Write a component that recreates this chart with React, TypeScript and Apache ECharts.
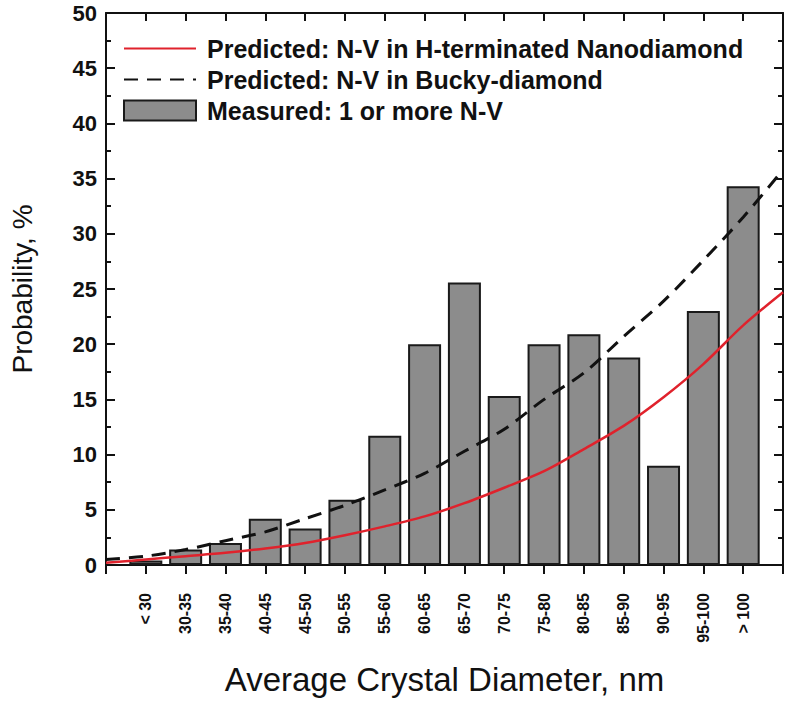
import React, { useEffect, useRef } from "react";
import * as echarts from "echarts";

const categories = ["< 30", "30-35", "35-40", "40-45", "45-50", "50-55", "55-60", "60-65", "65-70", "70-75", "75-80", "80-85", "85-90", "90-95", "95-100", "> 100"];
const measured = [0.4, 1.4, 2.0, 4.2, 3.3, 5.9, 11.7, 20.0, 25.6, 15.3, 20.0, 20.9, 18.8, 9.0, 23.0, 34.3];
// positions -1 .. 16 (axis ends included)
const curveX = [-1, 0, 1, 2, 3, 4, 5, 6, 7, 8, 9, 10, 11, 12, 13, 14, 15, 16];
const predictedH = [0.2, 0.5, 0.8, 1.1, 1.5, 2.0, 2.7, 3.5, 4.4, 5.6, 7.0, 8.5, 10.5, 12.6, 15.2, 18.2, 21.7, 24.7];
const predictedBucky = [0.5, 0.8, 1.4, 2.2, 3.0, 4.2, 5.4, 6.8, 8.3, 10.3, 12.3, 15.0, 17.4, 20.7, 23.9, 27.6, 31.5, 35.8];

const nameH = "Predicted: N-V in H-terminated Nanodiamond";
const nameB = "Predicted: N-V in Bucky-diamond";
const nameM = "Measured: 1 or more N-V";

export default function App() {
  const ref = useRef<HTMLDivElement>(null);
  useEffect(() => {
    if (!ref.current) return;
    const chart = echarts.init(ref.current, null, { renderer: "svg" });
    const font = "'Liberation Sans', Arial, Helvetica, sans-serif";
    const axisLine = { show: true, onZero: false, lineStyle: { color: "#111", width: 2 } };
    chart.setOption({
      animation: false,
      backgroundColor: "#ffffff",
      textStyle: { fontFamily: font },
      grid: { left: 106, right: 5, top: 13, bottom: 129, containLabel: false },
      legend: {
        orient: "vertical",
        left: 118,
        top: 31,
        itemWidth: 72,
        itemHeight: 20,
        itemGap: 6,
        selectedMode: false,
        textStyle: { fontFamily: font, fontSize: 25, fontWeight: "bold", color: "#111", padding: [0, 0, 0, 6] },
        data: [
          { name: nameH, itemStyle: { opacity: 0 } },
          { name: nameB, itemStyle: { opacity: 0 } },
          { name: nameM, icon: "rect" },
        ],
      },
      xAxis: [
        {
          type: "value",
          min: -1,
          max: 16,
          interval: 1,
          position: "bottom",
          axisLine,
          axisTick: { show: true, inside: false, length: 9, lineStyle: { width: 2, color: "#111" } },
          splitLine: { show: false },
          axisLabel: {
            rotate: 90,
            margin: 28,
            fontSize: 16,
            fontWeight: "bold",
            color: "#111",
            fontFamily: font,
            formatter: (v: number) => (categories[v] !== undefined ? categories[v] : ""),
          },
          name: "Average Crystal Diameter, nm",
          nameLocation: "middle",
          nameGap: 98,
          nameTextStyle: { fontSize: 33, color: "#111", fontFamily: font },
        },
        {
          type: "value",
          min: -1,
          max: 16,
          interval: 1,
          position: "top",
          axisLine,
          axisTick: { show: true, inside: true, length: 8, lineStyle: { width: 2, color: "#111" } },
          axisLabel: { show: false },
          splitLine: { show: false },
        },
      ],
      yAxis: [
        {
          type: "value",
          min: 0,
          max: 50,
          interval: 5,
          position: "left",
          axisLine,
          axisTick: { show: true, inside: true, length: 9, lineStyle: { width: 2, color: "#111" } },
          minorTick: { show: true, splitNumber: 2, length: 5, lineStyle: { width: 2, color: "#111" } },
          splitLine: { show: false },
          axisLabel: { fontSize: 22, fontWeight: "bold", color: "#111", margin: 9, fontFamily: font },
          name: "Probability, %",
          nameLocation: "middle",
          nameGap: 70,
          nameTextStyle: { fontSize: 28, color: "#111", fontFamily: font },
        },
        {
          type: "value",
          min: 0,
          max: 50,
          interval: 5,
          position: "right",
          axisLine,
          axisTick: { show: true, inside: true, length: 9, lineStyle: { width: 2, color: "#111" } },
          minorTick: { show: true, splitNumber: 2, length: 5, lineStyle: { width: 2, color: "#111" } },
          splitLine: { show: false },
          axisLabel: { show: false },
        },
      ],
      series: [
        {
          name: nameH,
          type: "line",
          xAxisIndex: 0,
          yAxisIndex: 0,
          smooth: 0.3,
          symbol: "none",
          z: 5,
          lineStyle: { color: "#e0222c", width: 2.5 },
          itemStyle: { color: "#e0222c" },
          data: curveX.map((x, i) => [x, predictedH[i]]),
        },
        {
          name: nameB,
          type: "line",
          xAxisIndex: 0,
          yAxisIndex: 0,
          smooth: 0.3,
          symbol: "none",
          z: 6,
          lineStyle: { color: "#111", width: 3, type: [14, 9] },
          itemStyle: { color: "#111" },
          data: curveX.map((x, i) => [x, predictedBucky[i]]),
        },
        {
          name: nameM,
          type: "bar",
          xAxisIndex: 0,
          yAxisIndex: 0,
          barWidth: 33,
          z: 2,
          itemStyle: { color: "#8c8c8c", borderColor: "#1a1a1a", borderWidth: 2 },
          data: measured.map((v, i) => [i, v]),
        },
      ],
    });
    return () => chart.dispose();
  }, []);
  return <div ref={ref} style={{ width: 788, height: 701, position: "absolute", left: 0, top: 0 }} />;
}
